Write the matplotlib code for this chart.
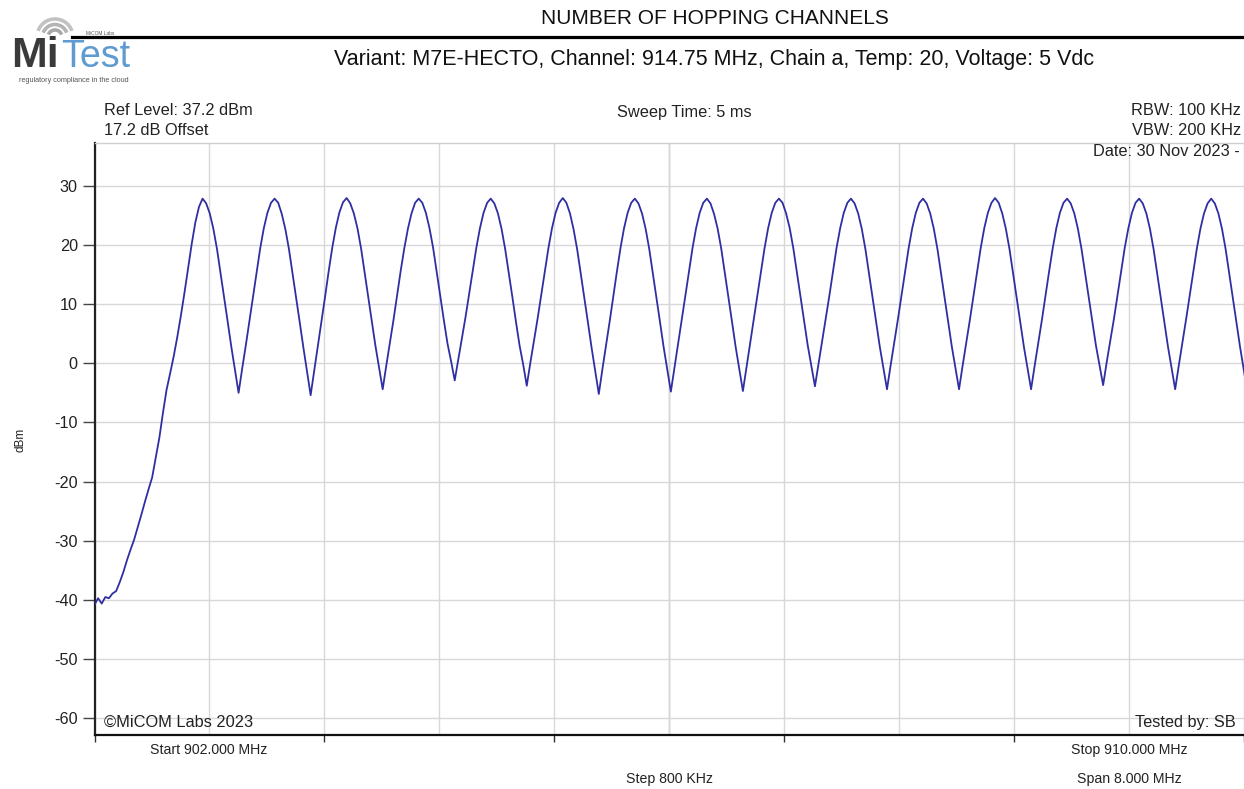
import numpy as np
import matplotlib
matplotlib.use("Agg")
import matplotlib.pyplot as plt
from matplotlib.patches import Arc
from matplotlib.lines import Line2D
from matplotlib.ticker import FixedLocator
from matplotlib import font_manager as fm

plt.rcParams['font.family'] = ['Liberation Sans', 'DejaVu Sans']

# ---------------- data ----------------
title = "NUMBER OF HOPPING CHANNELS"
subtitle = "Variant: M7E-HECTO, Channel: 914.75 MHz, Chain a, Temp: 20, Voltage: 5 Vdc"
start_mhz = 902.0
stop_mhz = 910.0
grid_step_mhz = 0.8
sweep_step_mhz = 0.02507
ref_level_dbm = 37.2
display_range_db = 100.0
y_ticks = [-60, -50, -40, -30, -20, -10, 0, 10, 20, 30]

# band edge rise (sweep points 0..29)
rise_dbm = [-40.8, -39.7, -40.6, -39.5, -39.7, -38.9, -38.5, -37.0, -35.3, -33.3,
            -31.5, -29.8, -27.7, -25.6, -23.4, -21.3, -19.3, -16.0, -12.6, -8.4,
            -4.5, -1.7, 1.2, 4.5, 8.1, 12.0, 16.1, 20.2, 23.8, 26.4]

# one row per hopping channel: peak, falling edge, trough, rising edge
channel_dbm = [
    [27.8, 27.0, 25.3, 22.7, 19.3, 15.2, 11.1, 6.9, 2.7, -1.2, -5.0, -0.9, 3.0, 7.1, 11.3, 15.4, 19.4, 22.8, 25.4, 27.1],
    [27.8, 27.1, 25.2, 22.6, 19.2, 15.1, 11.0, 6.8, 2.6, -1.4, -5.4, -1.2, 2.9, 7.0, 11.2, 15.5, 19.5, 22.9, 25.5, 27.2],
    [27.9, 27.0, 25.3, 22.8, 19.4, 15.3, 11.2, 7.0, 2.9, -0.7, -4.4, -0.4, 3.4, 7.3, 11.4, 15.6, 19.4, 22.7, 25.3, 27.1],
    [27.8, 27.1, 25.4, 22.8, 19.5, 15.4, 11.3, 7.2, 3.3, 0.3, -2.9, 0.7, 4.2, 7.8, 11.7, 15.6, 19.5, 22.8, 25.4, 27.1],
    [27.8, 27.0, 25.3, 22.7, 19.3, 15.3, 11.2, 7.0, 3.0, -0.2, -3.8, 0.1, 3.8, 7.5, 11.5, 15.5, 19.4, 22.8, 25.4, 27.1],
    [27.9, 27.1, 25.3, 22.6, 19.2, 15.1, 11.0, 6.8, 2.6, -1.3, -5.2, -1.0, 3.0, 7.0, 11.2, 15.4, 19.4, 22.8, 25.4, 27.1],
    [27.8, 27.0, 25.3, 22.7, 19.3, 15.2, 11.1, 6.9, 2.7, -1.1, -4.8, -0.8, 3.1, 7.1, 11.3, 15.4, 19.4, 22.8, 25.4, 27.1],
    [27.8, 27.0, 25.2, 22.7, 19.3, 15.2, 11.1, 6.9, 2.7, -1.0, -4.7, -0.7, 3.2, 7.2, 11.3, 15.4, 19.4, 22.8, 25.4, 27.1],
    [27.8, 27.1, 25.3, 22.8, 19.4, 15.3, 11.2, 7.0, 3.0, -0.4, -3.9, -0.1, 3.6, 7.4, 11.4, 15.5, 19.5, 22.8, 25.4, 27.1],
    [27.8, 27.0, 25.3, 22.7, 19.3, 15.2, 11.1, 6.9, 2.8, -0.8, -4.4, -0.4, 3.4, 7.3, 11.3, 15.4, 19.4, 22.8, 25.4, 27.1],
    [27.8, 27.0, 25.3, 22.7, 19.3, 15.2, 11.1, 6.9, 2.8, -0.8, -4.4, -0.4, 3.4, 7.3, 11.3, 15.4, 19.4, 22.8, 25.4, 27.1],
    [27.9, 27.1, 25.3, 22.7, 19.3, 15.2, 11.1, 6.9, 2.8, -0.8, -4.4, -0.4, 3.4, 7.3, 11.4, 15.5, 19.4, 22.8, 25.4, 27.1],
    [27.8, 27.0, 25.3, 22.7, 19.3, 15.2, 11.1, 7.0, 3.0, -0.3, -3.7, 0.2, 3.8, 7.5, 11.5, 15.5, 19.5, 22.8, 25.4, 27.1],
    [27.8, 27.0, 25.3, 22.7, 19.3, 15.2, 11.1, 6.9, 2.8, -0.8, -4.4, -0.4, 3.4, 7.3, 11.3, 15.4, 19.3, 22.7, 25.3, 27.0],
]
# last channel (cut at stop frequency)
tail_dbm = [27.8, 27.0, 25.3, 22.7, 19.3, 15.2, 11.1, 6.9, 2.8, -1.0, -4.6]

level_dbm = np.array(rise_dbm + [v for row in channel_dbm for v in row] + tail_dbm)
freq_mhz = start_mhz + sweep_step_mhz * np.arange(len(level_dbm))

# ---------------- figure ----------------
W, H = 1244, 789
fig = plt.figure(figsize=(W / 100, H / 100), dpi=100)
fig.patch.set_facecolor('white')

ax = fig.add_axes([94.5 / W, 54 / H, 1149.5 / W, 592 / H])
ax.plot(freq_mhz, level_dbm, color='#2f2fa3', lw=1.3, zorder=3)
ax.set_xlim(start_mhz, stop_mhz)
ax.set_ylim(ref_level_dbm - display_range_db, ref_level_dbm)

ax.set_yticks(y_ticks)
ax.set_yticklabels([str(v) for v in y_ticks], fontsize=11.7, color='#222222')
ax.tick_params(axis='y', direction='out', length=8.5, width=1.0, color='#444444', pad=3.5)

n_div = int(round((stop_mhz - start_mhz) / grid_step_mhz))
grid_pos = [start_mhz + k * grid_step_mhz for k in range(n_div + 1)]
ax.xaxis.set_major_locator(FixedLocator(grid_pos[::2]))
ax.xaxis.set_minor_locator(FixedLocator(grid_pos[1::2]))
ax.tick_params(axis='x', which='major', direction='out', length=5, width=1.0,
               color='#333333', labelbottom=False)
ax.tick_params(axis='x', which='minor', length=0, labelbottom=False)
ax.grid(True, which='both', axis='x', color='#d8d8d8', lw=1.0, zorder=0)
ax.grid(True, which='major', axis='y', color='#d8d8d8', lw=1.0, zorder=0)
ax.axvline((start_mhz + stop_mhz) / 2, color='#bcbcbc', lw=1.0, zorder=0.5)

ax.spines['left'].set_color('#222222')
ax.spines['left'].set_linewidth(1.6)
ax.spines['bottom'].set_color('#111111')
ax.spines['bottom'].set_linewidth(1.6)
ax.spines['top'].set_color('#d0d0d0')
ax.spines['top'].set_linewidth(1.0)
ax.spines['right'].set_visible(False)

fig.text(20 / W, 1 - 440 / H, 'dBm', rotation=90, fontsize=8.5, ha='center', va='center',
         color='#222222')

# ---------------- overlay in pixel coordinates ----------------
ov = fig.add_axes([0, 0, 1, 1], zorder=5)
ov.set_xlim(0, W)
ov.set_ylim(H, 0)
ov.axis('off')
ov.patch.set_visible(False)

names = {f.name for f in fm.fontManager.ttflist}
if 'Liberation Sans Narrow' in names:
    axis_font = dict(family=['Liberation Sans Narrow', 'Liberation Sans'], fontsize=12.2)
else:
    axis_font = dict(family=['Liberation Sans', 'DejaVu Sans'], fontsize=10.2)

ov.text(714.5, 18, title, fontsize=15, ha='center', va='center', color='#111111')
ov.add_line(Line2D([72, W], [36.5, 36.5], color='black', lw=2.3))
ov.text(714.5, 59, subtitle, fontsize=15.5, ha='center', va='center', color='#111111')

info_c = '#222222'
ov.text(104, 110, 'Ref Level: 37.2 dBm', fontsize=11.8, ha='left', va='center', color=info_c)
ov.text(104, 130, '17.2 dB Offset', fontsize=11.8, ha='left', va='center', color=info_c)
ov.text(684, 112, 'Sweep Time: 5 ms', fontsize=11.8, ha='center', va='center', color=info_c)
ov.text(1241, 110, 'RBW: 100 KHz', fontsize=11.8, ha='right', va='center', color=info_c)
ov.text(1241, 130, 'VBW: 200 KHz', fontsize=11.8, ha='right', va='center', color=info_c)
ov.text(1240, 151, 'Date: 30 Nov 2023 -', fontsize=11.8, ha='right', va='center', color=info_c)
ov.text(104, 722, '\u00a9MiCOM Labs 2023', fontsize=11.8, ha='left', va='center', color=info_c)
ov.text(1236, 723, 'Tested by: SB', fontsize=11.8, ha='right', va='center', color=info_c)

ov.text(209, 750, 'Start 902.000 MHz', ha='center', va='center', color=info_c, **axis_font)
ov.text(1129, 750, 'Stop 910.000 MHz', ha='center', va='center', color=info_c, **axis_font)
ov.text(669, 779, 'Step 800 KHz', ha='center', va='center', color=info_c, **axis_font)
ov.text(1129, 779, 'Span 8.000 MHz', ha='center', va='center', color=info_c, **axis_font)

# logo
for r, c in [(7, '#a8a8a8'), (12.5, '#b4b4b4'), (18, '#c2c2c2')]:
    ov.add_patch(Arc((55, 37), 2 * r, 2 * r, theta1=200, theta2=340, color=c, lw=2.6))
ov.text(11, 67, 'Mi', fontsize=31, fontweight='bold', color='#3a3a3a', ha='left', va='baseline')
ov.text(61, 67, 'Test', fontsize=27, color='#5f9bd0', ha='left', va='baseline')
ov.text(100, 33, 'MiCOM Labs', fontsize=3.5, color='#555555', ha='center', va='center')
ov.text(74, 80, 'regulatory compliance in the cloud', fontsize=5.2, color='#555555',
        ha='center', va='center')

fig.savefig('out.png', dpi=100, facecolor='white')
